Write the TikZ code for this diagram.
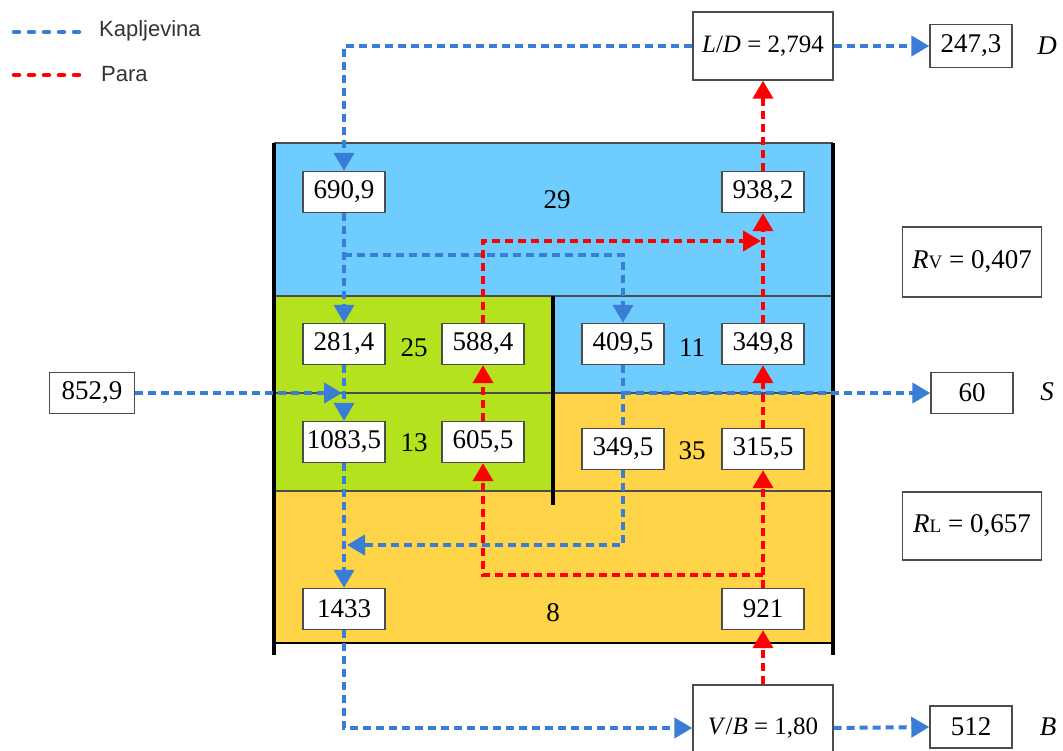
\documentclass[tikz,border=0pt]{standalone}
\usepackage{fontspec}
\setmainfont{Liberation Serif}
\newfontfamily\legendfont{Liberation Sans}
\usetikzlibrary{arrows.meta}
\definecolor{liq}{RGB}{58,125,214}
\definecolor{vap}{RGB}{255,0,0}
\definecolor{secblue}{RGB}{110,204,255}
\definecolor{secgreen}{RGB}{180,226,30}
\definecolor{secorange}{RGB}{255,212,72}
\pgfdeclarelayer{bg}
\pgfdeclarelayer{flow}
\pgfsetlayers{bg,flow,main}
\tikzset{
  val/.style={draw=black!70, line width=1.4pt, fill=white, minimum width=82pt, minimum height=41pt, inner sep=0pt, font=\fontsize{27}{27}\selectfont},
  bigbox/.style={val, minimum width=140pt, font=\fontsize{25}{25}\selectfont},
  sec/.style={font=\fontsize{27}{27}\selectfont, inner sep=0pt},
  lab/.style={font=\fontsize{27}{27}\selectfont\itshape, inner sep=0pt},
  liqflow/.style={draw=liq, line width=4pt, dash pattern=on 8pt off 5pt},
  vapflow/.style={draw=vap, line width=4pt, dash pattern=on 8pt off 5pt},
  tip/.style={-{Triangle[length=18pt,width=20pt]}},
  legtext/.style={anchor=west, inner sep=0pt, text=black!80, font=\legendfont\fontsize{22}{22}\selectfont},
  divline/.style={draw=black!70, line width=1.5pt},
  wall/.style={draw=black, line width=3.5pt}
}
\begin{document}
\begin{tikzpicture}[x=1pt,y=-1pt]
\useasboundingbox (0,0) rectangle (1063,751);

% sections
\begin{pgfonlayer}{bg}
\fill[white] (0,0) rectangle (1063,751);
\fill[secblue] (274,143) rectangle (833,296);
\fill[secgreen] (274,296) rectangle (553,491);
\fill[secblue] (553,296) rectangle (833,393);
\fill[secorange] (553,393) rectangle (833,491);
\fill[secorange] (274,491) rectangle (833,643);
\draw[divline] (274,143) -- (833,143);
\draw[divline] (274,296) -- (833,296);
\draw[divline] (274,393) -- (833,393);
\draw[divline] (274,491) -- (833,491);
\draw[draw=black, line width=2pt] (274,643) -- (833,643);
\draw[wall] (274,143) -- (274,655);
\draw[wall] (833,143) -- (833,655);
\draw[wall] (553,296) -- (553,505);
\end{pgfonlayer}

% legend
\draw[liq, line width=4.5pt, line cap=round, dash pattern=on 5pt off 10pt] (14,32) -- (85,32);
\draw[vap, line width=4.5pt, line cap=round, dash pattern=on 5pt off 10pt] (14,75) -- (85,75);
\node[legtext] (legL) at (99,31) {Kapljevina};
\node[legtext] (legV) at (101,74) {Para};

% section numbers
\node[sec] (s29) at (557,200) {29};
\node[sec] (s25) at (414,348) {25};
\node[sec] (s13) at (414,443) {13};
\node[sec] (s11) at (692,348) {11};
\node[sec] (s35) at (692,451) {35};
\node[sec] (s8) at (553,613) {8};

% value boxes
\node[val] (n6909) at (344,192) {690,9};
\node[val] (n9382) at (763,192) {938,2};
\node[val] (n2814) at (344,344) {281,4};
\node[val] (n5884) at (483,344) {588,4};
\node[val] (n4095) at (623,344) {409,5};
\node[val] (n3498) at (763,344) {349,8};
\node[val] (n10835) at (344,442) {1083,5};
\node[val] (n6055) at (483,442) {605,5};
\node[val] (n3495) at (623,449) {349,5};
\node[val] (n3155) at (763,449) {315,5};
\node[val] (n1433) at (344,609) {1433};
\node[val] (n921) at (763,609) {921};
\node[val, minimum width=85pt] (n8529) at (92,393) {852,9};

\node[bigbox, minimum height=68pt] (LD) at (763,46) {\textit{L}/\textit{D} = 2,794};
\node[bigbox, minimum height=86pt] (VB) at (763,728) {\textit{V}/\textit{B} = 1,80};
\node[val, minimum height=43pt] (n2473) at (971,46) {247,3};
\node[val] (n60) at (972,393) {60};
\node[val, minimum height=42pt] (n512) at (971,727) {512};
\node[bigbox, minimum width=139pt, minimum height=70pt, font=\fontsize{27}{27}\selectfont] (RV) at (972,262) {\textit{R}{\fontsize{19}{19}\selectfont V} = 0,407};
\node[bigbox, minimum width=139pt, minimum height=68pt, font=\fontsize{27}{27}\selectfont] (RL) at (972,526) {\textit{R}{\fontsize{19}{19}\selectfont L} = 0,657};

\node[lab] (lD) at (1047,46) {D};
\node[lab] (lS) at (1047,392) {S};
\node[lab] (lB) at (1048,727) {B};

% junction coordinates
\coordinate (b1) at (344,255);
\coordinate (b2) at (623,393);
\coordinate (b3) at (347,545);
\coordinate (b4) at (342,393);
\coordinate (r1) at (761,241);
\coordinate (r2) at (763,575);

\begin{pgfonlayer}{flow}
% liquid
\draw[liqflow,tip] (LD.west) -| (n6909.north);
\draw[liqflow,tip] (LD.east) -- (n2473.west);
\draw[liqflow,tip] (n6909.south) -- (n2814.north);
\draw[liqflow,tip] (b1) -| (n4095.north);
\draw[liqflow,tip] (n2814.south) -- (n10835.north);
\draw[liqflow,tip] (n8529.east) -- (b4);
\draw[liqflow,tip] (n10835.south) -- (n1433.north);
\draw[liqflow] (n4095.south) -- (n3495.north);
\draw[liqflow,tip] (n3495.south) |- (b3);
\draw[liqflow,tip] (b2) -- (n60.west);
\draw[liqflow,tip] (n1433.south) |- (VB.west);
\draw[liqflow,tip] (VB.east) -- (n512.west);
% vapour
\draw[vapflow,tip] (VB.north) -- (n921.south);
\draw[vapflow,tip] (n921.north) -- (n3155.south);
\draw[vapflow,tip] (n3155.north) -- (n3498.south);
\draw[vapflow,tip] (n3498.north) -- (n9382.south);
\draw[vapflow,tip] (n9382.north) -- (LD.south);
\draw[vapflow,tip] (r2) -| (n6055.south);
\draw[vapflow,tip] (n6055.north) -- (n5884.south);
\draw[vapflow,tip] (n5884.north) |- (r1);
\end{pgfonlayer}
\end{tikzpicture}
\end{document}
